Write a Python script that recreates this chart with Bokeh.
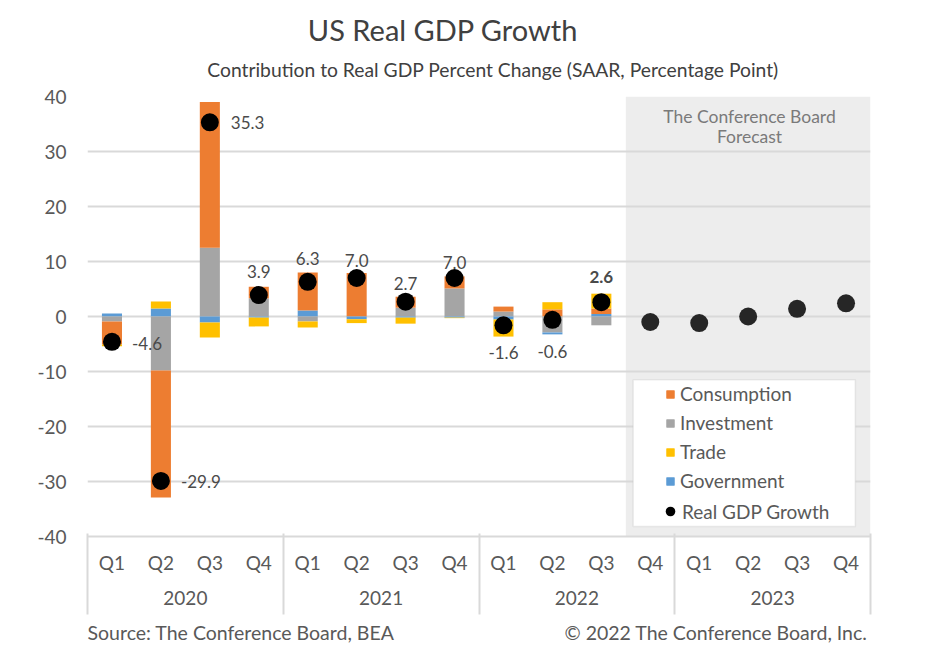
import numpy as np
from bokeh.plotting import figure
from bokeh.layouts import column
from bokeh.models import (FactorRange, ColumnDataSource, LabelSet, Label, BoxAnnotation,
                          Legend, LegendItem, FixedTicker, LinearAxis)
from bokeh.core.properties import value, field
from bokeh.embed import file_html
from bokeh.resources import INLINE

# ---------------- data ----------------
YEARS = ["2020", "2021", "2022", "2023"]
QUARTERS = ["Q1", "Q2", "Q3", "Q4"]
Y_TICKS = [-40, -30, -20, -10, 0, 10, 20, 30, 40]

# contributions, 2020Q1 .. 2022Q3 (percentage points)
CONSUMPTION = [-4.2, -23.1, 26.5, 2.1, 6.9, 7.9, 2.0, 2.2, 0.9, 1.3, 1.0]
INVESTMENT = [-0.9, -9.8, 12.5, 3.3, -0.9, 0.0, 1.6, 5.1, 0.9, -2.9, -1.6]
TRADE = [-0.3, 1.3, -2.7, -1.6, -1.1, -0.7, -1.1, -0.1, -3.1, 1.3, 2.7]
GOVERNMENT = [0.55, 1.45, -1.1, -0.2, 1.1, -0.5, -0.2, -0.2, -0.55, -0.35, 0.45]
GDP_ACTUAL = [-4.6, -29.9, 35.3, 3.9, 6.3, 7.0, 2.7, 7.0, -1.6, -0.6, 2.6]
# The Conference Board forecast, 2022Q4 .. 2023Q4
GDP_FORECAST = [-1.0, -1.2, 0.0, 1.4, 2.4]

# label placement (style only): (x offset px, y offset px, align, font style)
LABEL_STYLE = [
    (20, -2, "left", "normal"), (20, -1, "left", "normal"), (21, 0, "left", "normal"),
    (0, 24, "center", "normal"), (0, 23, "center", "normal"), (0, 18, "center", "normal"),
    (0, 18, "center", "normal"), (0, 16, "center", "normal"), (0, -27, "center", "normal"),
    (0, -32, "center", "normal"), (0, 25, "center", "bold"),
]

FONT = "Lato"
TXT = "#595959"
GRID = "#d9d9d9"
C_CONS, C_INV, C_TRADE, C_GOV = "#ED7D31", "#A5A5A5", "#FFC000", "#5B9BD5"
W = 935
FRAME_L = 87  # left edge of the (aligned) frames, page pixels

factors = [(y, q) for y in YEARS for q in QUARTERS]
n_act = len(GDP_ACTUAL)
x_act = factors[:n_act]
x_fc = factors[n_act:]
year_edges = [i * len(QUARTERS) for i in range(len(YEARS) + 1)]


def pos(a):
    return [max(v, 0.0) for v in a]


def neg(a):
    return [min(v, 0.0) for v in a]


src = ColumnDataSource(dict(
    x=x_act,
    cons_p=pos(CONSUMPTION), inv_p=pos(INVESTMENT), trade_p=pos(TRADE), gov_p=pos(GOVERNMENT),
    cons_n=neg(CONSUMPTION), inv_n=neg(INVESTMENT), trade_n=neg(TRADE), gov_n=neg(GOVERNMENT),
    gdp=GDP_ACTUAL,
    label=[f"{v:.1f}" for v in GDP_ACTUAL],
    xo=[s[0] for s in LABEL_STYLE], yo=[s[1] for s in LABEL_STYLE],
    align=[s[2] for s in LABEL_STYLE], fstyle=[s[3] for s in LABEL_STYLE],
))
src_fc = ColumnDataSource(dict(x=x_fc, gdp=GDP_FORECAST))


def text_fig(h):
    f = figure(width=W, height=h, x_range=(0, W), y_range=(0, h), output_backend="svg",
               toolbar_location=None, x_axis_location=None, y_axis_location=None,
               min_border=0)
    f.grid.visible = False
    f.outline_line_color = None
    f.background_fill_color = "white"
    f.border_fill_color = "white"
    return f


# ---------------- header ----------------
HEAD_H = 84
head = text_fig(HEAD_H)
head.add_layout(Label(x=442.5 - FRAME_L, y=HEAD_H - 29, x_units="screen", y_units="screen",
                      text="US Real GDP Growth", text_align="center", text_baseline="middle",
                      text_font=FONT, text_font_size="29px", text_color="#404040"))
head.add_layout(Label(x=492.5 - FRAME_L, y=HEAD_H - 69, x_units="screen", y_units="screen",
                      text="Contribution to Real GDP Percent Change (SAAR, Percentage Point)",
                      text_align="center", text_baseline="middle",
                      text_font=FONT, text_font_size="19.3px", text_color="#404040"))

# ---------------- main chart ----------------
x_range = FactorRange(*factors, factor_padding=0, group_padding=0, range_padding=0)
p = figure(x_range=x_range, y_range=(-40, 40), width=W, height=536,
           output_backend="svg", toolbar_location=None,
           min_border_left=FRAME_L, min_border_right=65, min_border_top=12,
           min_border_bottom=84)
p.outline_line_color = None
p.background_fill_color = "white"
p.border_fill_color = "white"

# forecast shading
p.add_layout(BoxAnnotation(left=11, right=16, fill_color="#ededed", fill_alpha=1.0,
                           line_color=None, level="image"))

# grid
p.xgrid.visible = False
p.ygrid.ticker = FixedTicker(ticks=Y_TICKS)
p.ygrid.grid_line_color = GRID
p.ygrid.grid_line_width = 2

# y axis
ya = p.yaxis[0]
ya.ticker = FixedTicker(ticks=Y_TICKS)
ya.major_label_overrides = {t: f"{t}" for t in Y_TICKS}
ya.axis_line_color = None
ya.major_tick_line_color = None
ya.minor_tick_line_color = None
ya.major_tick_out = 0
ya.major_tick_in = 0
ya.major_label_standoff = 21
ya.major_label_text_font = FONT
ya.major_label_text_font_size = "19px"
ya.major_label_text_color = TXT

# x axis
xa = p.xaxis[0]
xa.axis_line_color = GRID
xa.axis_line_width = 2
xa.major_tick_line_color = None
xa.minor_tick_line_color = None
xa.major_tick_out = 0
xa.major_label_standoff = 14
xa.major_label_text_font = FONT
xa.major_label_text_font_size = "19px"
xa.major_label_text_color = TXT
xa.group_text_font = FONT
xa.group_text_font_size = "19px"
xa.group_text_font_style = "normal"
xa.group_text_color = TXT
xa.separator_line_color = None

# year separators: ticks (at year edges, synthetic coordinates) of a label-less
# axis stacked under the category axis, pointing up through both label rows
sep = LinearAxis(ticker=FixedTicker(ticks=year_edges))
sep.major_label_overrides = {t: "" for t in year_edges}
sep.major_label_text_font_size = "0px"
sep.major_label_standoff = 0
sep.axis_line_color = None
sep.minor_tick_line_color = None
sep.major_tick_line_color = GRID
sep.major_tick_line_width = 2
sep.major_tick_in = 74
sep.major_tick_out = 7
p.add_layout(sep, "below")

# stacked bars: positives and negatives stacked separately
pos_r = p.vbar_stack(["gov_p", "inv_p", "cons_p", "trade_p"], x="x", width=0.41, source=src,
                     fill_color=[C_GOV, C_INV, C_CONS, C_TRADE], line_color=None)
neg_r = p.vbar_stack(["inv_n", "gov_n", "cons_n", "trade_n"], x="x", width=0.41, source=src,
                     fill_color=[C_INV, C_GOV, C_CONS, C_TRADE], line_color=None)

dots = p.scatter(x="x", y="gdp", size=18, fill_color="black", line_color=None, source=src)
p.scatter(x="x", y="gdp", size=18, fill_color="#262626", line_color=None, source=src_fc)

p.add_layout(LabelSet(x="x", y="gdp", text="label", source=src,
                      x_offset="xo", y_offset="yo", text_align=field("align"),
                      text_font_style=field("fstyle"), text_baseline="middle",
                      text_font=value(FONT), text_font_size="17px", text_color="#4a4a4a"))

# legend box + legends
p.add_layout(BoxAnnotation(left=11.15, right=15.69, top=-11.5, bottom=-38.2,
                           fill_color="white", fill_alpha=1.0, line_color="#bfbfbf",
                           line_width=1.5, level="glyph"))

legend_common = dict(padding=0, margin=0, border_line_color=None, background_fill_alpha=0,
                     label_text_font=FONT, label_text_font_size="19px",
                     label_text_color=TXT)
leg1 = Legend(items=[
    LegendItem(label="Consumption", renderers=[pos_r[2], neg_r[2]]),
    LegendItem(label="Investment", renderers=[pos_r[1], neg_r[0]]),
    LegendItem(label="Trade", renderers=[pos_r[3], neg_r[3]]),
    LegendItem(label="Government", renderers=[pos_r[0], neg_r[1]]),
], location=(578, 44), glyph_width=10, glyph_height=10, label_height=20, spacing=6,
    label_standoff=5, **legend_common)
leg2 = Legend(items=[LegendItem(label="Real GDP Growth", renderers=[dots])],
              location=(571, 13), glyph_width=24, glyph_height=24, label_standoff=0,
              **legend_common)
p.add_layout(leg1, "center")
p.add_layout(leg2, "center")

# forecast caption
for txt, yy in [("The Conference Board", 420), ("Forecast", 400)]:
    p.add_layout(Label(x=662, y=yy, x_units="screen", y_units="screen", text=txt,
                       text_align="center", text_baseline="middle", text_font=FONT,
                       text_font_size="17.5px", text_color="#7a7a7a"))

# ---------------- footer ----------------
FOOT_H = 36
foot = text_fig(FOOT_H)
foot.add_layout(Label(x=87 - FRAME_L, y=FOOT_H - 12, x_units="screen", y_units="screen",
                      text="Source: The Conference Board, BEA", text_align="left",
                      text_baseline="middle", text_font=FONT, text_font_size="19.5px",
                      text_color=TXT))
foot.add_layout(Label(x=867 - FRAME_L, y=FOOT_H - 12, x_units="screen", y_units="screen",
                      text="\u00a9 2022 The Conference Board, Inc.", text_align="right",
                      text_baseline="middle", text_font=FONT, text_font_size="19.5px",
                      text_color=TXT))

layout = column(head, p, foot, spacing=0)
open("out.html", "w").write(file_html(layout, INLINE))
